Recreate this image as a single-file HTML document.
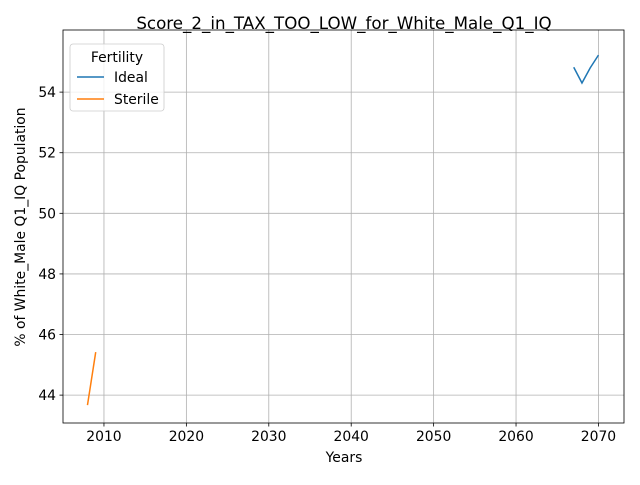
<!DOCTYPE html>
<html><head><meta charset="utf-8"><style>
body{margin:0;background:#fff;font-family:"Liberation Sans","DejaVu Sans",sans-serif;}
svg text{font-family:"DejaVu Sans","Liberation Sans",sans-serif;}
</style></head><body>
<svg id="chart" width="640" height="480" xmlns="http://www.w3.org/2000/svg"></svg>
<script>
const xTicks=[2010,2020,2030,2040,2050,2060,2070];
const yTicks=[44,46,48,50,52,54];
const idealYears=[2067,2068,2069,2070];
const idealValues=[54.82,54.3,54.8,55.22];
const sterileYears=[2008,2009];
const sterileValues=[43.67,45.42];
const L=63,R=624,T=30,B=423;
const x0=2005.03,x1=2073.1,y0=43.08,y1=56.05;
const sx=v=>L+(v-x0)/(x1-x0)*(R-L);
const sy=v=>B-(v-y0)/(y1-y0)*(B-T);
const svg=document.getElementById('chart');
const NS='http://www.w3.org/2000/svg';
function mk(tag,attrs,parent){const e=document.createElementNS(NS,tag);for(const k in attrs)e.setAttribute(k,attrs[k]);(parent||svg).appendChild(e);return e;}
const grid=mk('g',{});


xTicks.forEach(t=>{const X=sx(t);
mk('line',{x1:X,x2:X,y1:T,y2:B,stroke:'#b0b0b0','stroke-width':0.8},grid);
mk('line',{x1:X,x2:X,y1:B,y2:B+3.5,stroke:'#000','stroke-width':0.8});
const tx=mk('text',{x:X,y:B+18,'text-anchor':'middle','font-size':13.9,fill:'#000'});tx.textContent=t;

});
yTicks.forEach(t=>{const Y=sy(t);
mk('line',{x1:L,x2:R,y1:Y,y2:Y,stroke:'#b0b0b0','stroke-width':0.8},grid);
mk('line',{x1:L-3.5,x2:L,y1:Y,y2:Y,stroke:'#000','stroke-width':0.8});
const tx=mk('text',{x:L-7,y:Y+5,'text-anchor':'end','font-size':13.9,fill:'#000'});tx.textContent=t;

});
function line(xs,ys,color,name){const p=mk('polyline',{points:xs.map((v,i)=>sx(v)+','+sy(ys[i])).join(' '),fill:'none',stroke:color,'stroke-width':1.5});

}
line(idealYears,idealValues,'#1f77b4','ideal-line');
line(sterileYears,sterileValues,'#ff7f0e','sterile-line');
const frame=mk('rect',{x:L,y:T,width:R-L,height:B-T,fill:'none',stroke:'#000','stroke-width':0.8});


</script>
<svg width="640" height="480" style="position:absolute;left:0;top:0" xmlns="http://www.w3.org/2000/svg">
<text x="344" y="29" text-anchor="middle" font-size="16.7">Score_2_in_TAX_TOO_LOW_for_White_Male_Q1_IQ</text>
<text x="344" y="462" text-anchor="middle" font-size="13.9">Years</text>
<text x="25" y="227" text-anchor="middle" font-size="13.9" transform="rotate(-90 25 227)">% of White_Male Q1_IQ Population</text>
<g>
<rect x="70" y="44" width="94" height="67" rx="3" fill="#fff" fill-opacity="0.8" stroke="#ccc" stroke-width="0.8"/>
<text x="117" y="62" text-anchor="middle" font-size="13.9">Fertility</text>
<line x1="77" x2="104" y1="77" y2="77" stroke="#1f77b4" stroke-width="1.5"/>
<text x="114" y="82" font-size="13.9">Ideal</text>
<line x1="77" x2="104" y1="99" y2="99" stroke="#ff7f0e" stroke-width="1.5"/>
<text x="114" y="104" font-size="13.9">Sterile</text>
</g>
</svg>
</body></html>
